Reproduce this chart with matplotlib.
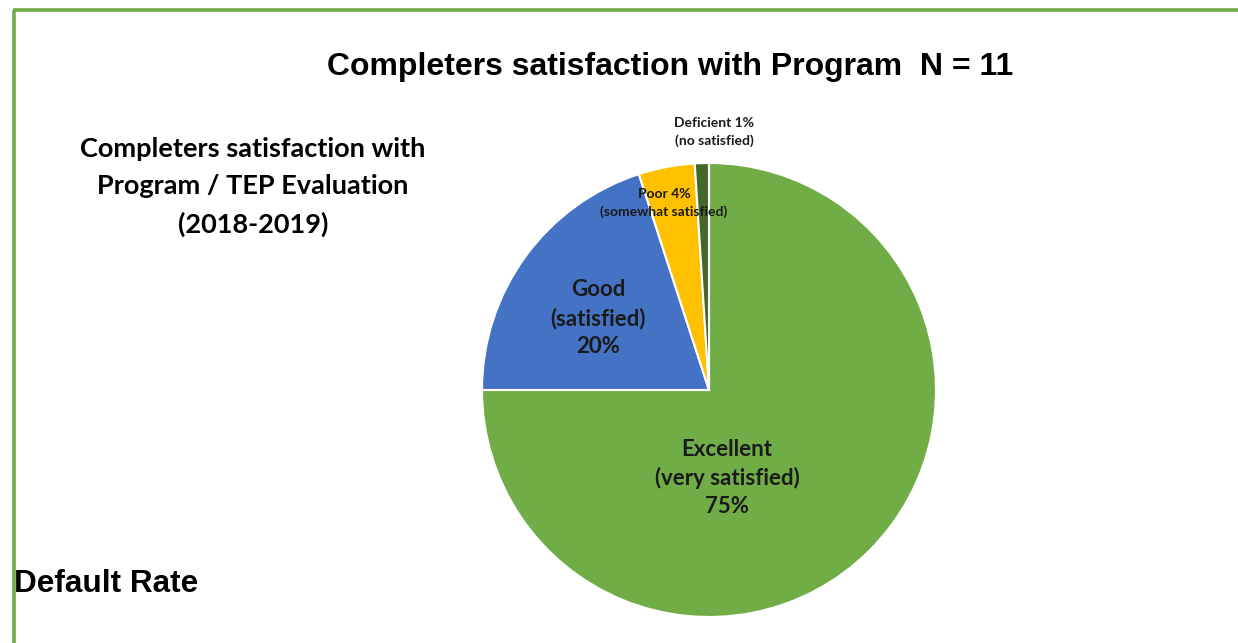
import matplotlib
matplotlib.use("Agg")
import matplotlib.pyplot as plt

# satisfaction shares (percent), drawn clockwise from 12 o'clock
categories = ["Excellent", "Good", "Poor", "Deficient"]
shares = [75, 20, 4, 1]
colors = ["#70AD47", "#4472C4", "#FFC000", "#43682B"]
slice_labels = [
    "Excellent\n(very satisfied)\n75%",
    "Good\n(satisfied)\n20%",
    "Poor 4%\n(somewhat satisfied)",
    "Deficient 1%\n(no satisfied)",
]

W, H = 1238, 643
fig = plt.figure(figsize=(W / 100, H / 100), dpi=100)
ax = fig.add_axes([0, 0, 1, 1])


def py(y):
    # convert a top-based pixel row into data y
    return H - y


ax.pie(shares, colors=colors, startangle=90, counterclock=False,
       center=(709, py(390)), radius=227,
       wedgeprops=dict(edgecolor="white", linewidth=1.5))
ax.set_xlim(0, W)
ax.set_ylim(0, H)
ax.set_aspect("equal")
ax.axis("off")

# green page border
ax.plot([13, W], [py(10), py(10)], color="#70AD47", lw=2.6, solid_capstyle="butt")
ax.plot([14, 14], [py(10), 0], color="#70AD47", lw=2.6, solid_capstyle="butt")

ax.text(670, py(67), "Completers satisfaction with Program  N = 11",
        family="Liberation Sans", weight="bold", fontsize=23,
        ha="center", va="center")
ax.text(253, py(187),
        "Completers satisfaction with\nProgram / TEP Evaluation\n(2018-2019)",
        family="Lato", weight="bold", fontsize=19.5, ha="center", va="center",
        linespacing=1.64)
ax.text(14, py(592), "Default Rate", family="Liberation Sans", weight="bold",
        fontsize=22.7, ha="left", va="baseline")

label_pos = [(727, 478), (598, 318), (664, 203), (714, 132)]
label_size = [16, 16, 10, 10]
for text, (x, y), fs in zip(slice_labels, label_pos, label_size):
    ax.text(x, py(y), text, family="Lato", weight="bold", fontsize=fs,
            ha="center", va="center", color="#1a1a1a", linespacing=1.42)

fig.savefig("out.png", dpi=100)
